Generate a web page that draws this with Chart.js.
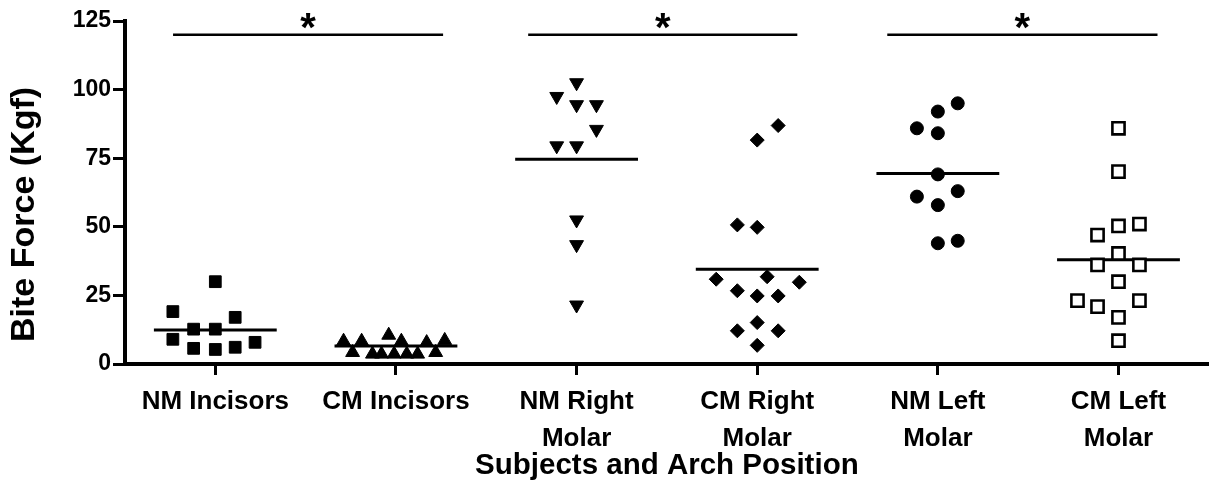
<!DOCTYPE html>
<html><head><meta charset="utf-8">
<script src="https://cdn.jsdelivr.net/npm/chart.js@4.4.1/dist/chart.umd.min.js"></script>
<style>html,body{margin:0;padding:0;background:#fff;overflow:hidden;}#wrap{width:1211px;height:486px;overflow:hidden;}</style>
</head><body><div id="wrap"><canvas id="c" width="1220" height="486"></canvas></div>
<script>
// ---- data ----
const categories = [['NM Incisors'], ['CM Incisors'], ['NM Right', 'Molar'], ['CM Right', 'Molar'], ['NM Left', 'Molar'], ['CM Left', 'Molar']];
const yTicks = [0, 25, 50, 75, 100, 125];
const yTitle = 'Bite Force (Kgf)';
const xTitle = 'Subjects and Arch Position';

const nmIncisors       = [30.0, 19.1, 17.0, 12.7, 12.7, 9.0, 5.7, 5.3, 6.1, 7.9];
const nmIncisorsJitter = [0, -0.235, 0.11, -0.12, 0, -0.235, -0.12, 0, 0.11, 0.22];

const cmIncisors       = [8.3, 8.3, 10.5, 8.3, 7.8, 8.6, 4.2, 3.6, 3.6, 3.6, 3.6, 3.6, 4.2];
const cmIncisorsJitter = [-0.29, -0.19, -0.04, 0.03, 0.17, 0.27, -0.24, -0.13, -0.08, -0.01, 0.06, 0.12, 0.22];

const nmRightMolar       = [102.5, 97.5, 94.5, 94.5, 85.5, 79.5, 79.5, 52.5, 43.5, 21.5];
const nmRightMolarJitter = [0, -0.11, 0, 0.11, 0.11, -0.11, 0, 0, 0, 0];

const cmRightMolar       = [86.9, 81.6, 50.7, 49.8, 31.8, 30.9, 29.8, 26.7, 24.8, 24.8, 15.1, 12.1, 12.1, 6.8];
const cmRightMolarJitter = [0.116, 0, -0.11, 0, 0.055, -0.227, 0.233, -0.11, 0, 0.116, 0, -0.11, 0.116, 0];

const nmLeftMolar       = [95.0, 92.0, 85.9, 84.1, 69.1, 63.0, 61.0, 57.9, 44.9, 44.0];
const nmLeftMolarJitter = [0.11, 0, -0.116, 0, 0, 0.11, -0.116, 0, 0.11, 0];

const cmLeftMolar       = [85.9, 70.1, 51.0, 50.3, 47.0, 40.3, 36.1, 36.1, 30.0, 23.1, 23.1, 20.9, 17.0, 8.5];
const cmLeftMolarJitter = [0, 0, 0.116, 0, -0.116, 0, -0.116, 0.116, 0, -0.227, 0.116, -0.116, 0, 0];

const means = [12.4, 6.6, 74.6, 34.5, 69.4, 38.0];
const meanHalfWidth = 0.34;

const brackets = [[0.766, 2.261], [2.732, 4.222], [4.72, 6.216]];
const bracketY = 120;
const bracketLabels = ['*', '*', '*'];

// ---- build ----
const FONT = '"Liberation Sans", Arial, sans-serif';
function pts(values, jitter, cat) {
  return values.map((v, i) => ({ x: cat + 1 + jitter[i], y: v }));
}
const groups = [
  { v: nmIncisors, j: nmIncisorsJitter, style: 'rect', r: 8.3, rot: 0, bg: '#000', bw: 1 },
  { v: cmIncisors, j: cmIncisorsJitter, style: 'triangle', r: 8, rot: 0, bg: '#000', bw: 1 },
  { v: nmRightMolar, j: nmRightMolarJitter, style: 'triangle', r: 8, rot: 180, bg: '#000', bw: 1 },
  { v: cmRightMolar, j: cmRightMolarJitter, style: 'rectRot', r: 7, rot: 0, bg: '#000', bw: 1 },
  { v: nmLeftMolar, j: nmLeftMolarJitter, style: 'circle', r: 6.5, rot: 0, bg: '#000', bw: 1 },
  { v: cmLeftMolar, j: cmLeftMolarJitter, style: 'rect', r: 8.6, rot: 0, bg: '#fff', bw: 2.6 }
];
const datasets = [];
groups.forEach((g, i) => {
  datasets.push({
    type: 'scatter', label: categories[i].join(' '), data: pts(g.v, g.j, i),
    pointStyle: g.style, pointRadius: g.r, pointRotation: g.rot,
    pointBackgroundColor: g.bg, pointBorderColor: '#000', pointBorderWidth: g.bw,
    showLine: false, order: 1, clip: false
  });
});
means.forEach((m, i) => {
  datasets.push({
    type: 'line', data: [{ x: i + 1 - meanHalfWidth, y: m }, { x: i + 1 + meanHalfWidth, y: m }],
    borderColor: '#000', borderWidth: 3, pointRadius: 0, tension: 0, fill: false, order: 2, clip: false
  });
});
brackets.forEach((b) => {
  datasets.push({
    type: 'line', data: [{ x: b[0], y: bracketY }, { x: b[1], y: bracketY }],
    borderColor: '#000', borderWidth: 2.5, pointRadius: 0, tension: 0, fill: false, order: 2, clip: false
  });
});

const textPlugin = {
  id: 'texts',
  afterDatasetsDraw(chart) {
    const ctx = chart.ctx, xs = chart.scales.x, ys = chart.scales.y;
    ctx.save();
    ctx.fillStyle = '#000';
    ctx.font = 'bold 40px ' + FONT;
    ctx.textAlign = 'center';
    ctx.textBaseline = 'alphabetic';
    brackets.forEach((b, i) => {
      const x = xs.getPixelForValue((b[0] + b[1]) / 2);
      const y = ys.getPixelForValue(bracketY);
      ctx.fillText(bracketLabels[i], x, y + 6);
    });
    // y-axis title (placed slightly below the axis centre, as in the original)
    ctx.font = 'bold 34px ' + FONT;
    ctx.textBaseline = 'middle';
    ctx.translate(25, ys.getPixelForValue(54.5));
    ctx.rotate(-Math.PI / 2);
    ctx.fillText(yTitle, 0, 0);
    ctx.restore();
  }
};

new Chart(document.getElementById('c'), {
  type: 'scatter',
  data: { datasets },
  plugins: [textPlugin],
  options: {
    responsive: false, animation: false, devicePixelRatio: 1,
    layout: { padding: { top: 21, right: 0, left: 0, bottom: 0 } },
    plugins: { legend: { display: false }, tooltip: { enabled: false } },
    scales: {
      x: {
        type: 'linear', min: 0.5, max: 6.5,
        afterBuildTicks: (s) => { s.ticks = categories.map((_, i) => ({ value: i + 1 })); },
        afterFit: (s) => { s.height = 122; s.paddingLeft = 0; s.paddingRight = 0; },
        ticks: {
          autoSkip: false, maxRotation: 0, color: '#000', padding: 8,
          font: { family: FONT, size: 26, weight: 'bold', lineHeight: 1.42 },
          callback: (v) => categories[Math.round(v) - 1]
        },
        grid: { drawOnChartArea: false, drawTicks: true, tickLength: 11, tickWidth: 3, tickColor: '#000' },
        border: { display: true, color: '#000', width: 4 },
        title: { display: true, text: xTitle, color: '#000',
                 font: { family: FONT, size: 29.5, weight: 'bold', lineHeight: 1.2 }, padding: { top: 0, bottom: 2 } }
      },
      y: {
        min: 0, max: 125,
        afterBuildTicks: (s) => { s.ticks = yTicks.map((v) => ({ value: v })); },
        afterFit: (s) => { s.width = 125; s.paddingTop = 0; s.paddingBottom = 0; },
        ticks: { color: '#000', padding: 2, font: { family: FONT, size: 23, weight: 'bold' } },
        grid: { drawOnChartArea: false, drawTicks: true, tickLength: 12, tickWidth: 3, tickColor: '#000' },
        border: { display: true, color: '#000', width: 4 },
        title: { display: false }
      }
    }
  }
});
</script></body></html>
